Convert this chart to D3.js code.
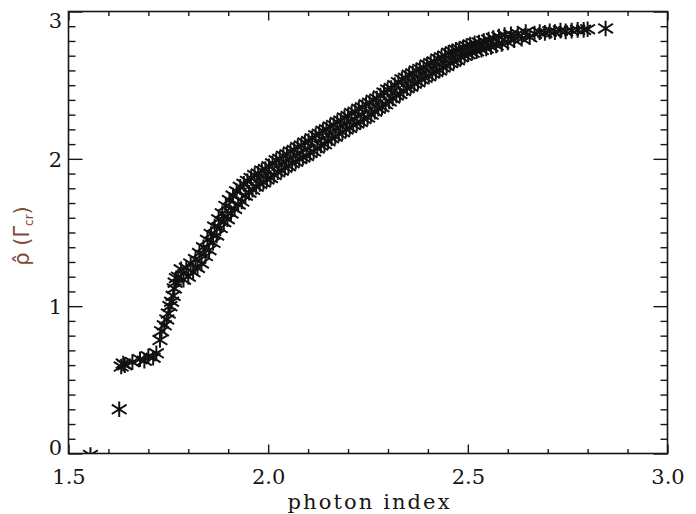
<!DOCTYPE html>
<html>
<head>
<meta charset="utf-8">
<script src="https://cdn.jsdelivr.net/npm/d3@7"></script>
<style>
  html, body { margin: 0; padding: 0; background: #fff; }
  svg { display: block; }
</style>
</head>
<body>
<svg id="chart" width="696" height="514"></svg>
<script>
// ---- data ----
const photonIndex = [
  1.555, 1.627, 1.632, 1.637, 1.641, 1.660, 1.679, 1.690, 1.700, 1.712, 1.720,
  1.729, 1.733, 1.740, 1.746, 1.750, 1.754, 1.758, 1.762, 1.765, 1.767, 1.770,
  1.775, 1.782, 1.788, 1.795, 1.800, 1.806, 1.812, 1.818, 1.823, 1.828, 1.833,
  1.838, 1.843, 1.848, 1.852, 1.857, 1.862, 1.866, 1.871, 1.876, 1.880, 1.885,
  1.889, 1.894, 1.898, 1.903, 1.907, 1.912, 1.916, 1.921, 1.925, 1.930, 1.934,
  1.939, 1.943, 1.948, 1.952, 1.957, 1.961, 1.966, 1.970, 1.975, 1.979, 1.984,
  1.988, 1.993, 1.997, 2.002, 2.006, 2.011, 2.015, 2.020, 2.024, 2.029, 2.033,
  2.038, 2.042, 2.047, 2.051, 2.056, 2.060, 2.065, 2.069, 2.074, 2.078, 2.083,
  2.087, 2.092, 2.096, 2.101, 2.105, 2.110, 2.114, 2.119, 2.123, 2.128, 2.132,
  2.137, 2.141, 2.146, 2.150, 2.155, 2.159, 2.164, 2.168, 2.173, 2.177, 2.182,
  2.186, 2.191, 2.195, 2.200, 2.204, 2.209, 2.213, 2.218, 2.222, 2.227, 2.231,
  2.236, 2.240, 2.245, 2.249, 2.254, 2.258, 2.263, 2.267, 2.272, 2.276, 2.281,
  2.285, 2.290, 2.294, 2.299, 2.303, 2.308, 2.312, 2.317, 2.321, 2.326, 2.330,
  2.335, 2.339, 2.344, 2.348, 2.353, 2.357, 2.362, 2.366, 2.371, 2.375, 2.380,
  2.384, 2.389, 2.393, 2.398, 2.402, 2.407, 2.411, 2.416, 2.420, 2.425, 2.429,
  2.434, 2.438, 2.443, 2.447, 2.452, 2.456, 2.461, 2.465, 2.470, 2.474, 2.479,
  2.483, 2.488, 2.492, 2.497, 2.501, 2.506, 2.511, 2.517, 2.522, 2.528, 2.534,
  2.540, 2.546, 2.552, 2.558, 2.564, 2.571, 2.578, 2.585, 2.592, 2.600, 2.608,
  2.616, 2.625, 2.635, 2.645, 2.655, 2.667, 2.680, 2.693, 2.705, 2.718, 2.732,
  2.745, 2.760, 2.775, 2.790, 2.800, 2.845
];
const rhoHat = [
  -0.01, 0.30, 0.59, 0.61, 0.60, 0.62, 0.64, 0.63, 0.66, 0.65, 0.68,
  0.77, 0.83, 0.87, 0.91, 0.95, 1.00, 1.03, 1.07, 1.12, 1.16, 1.19,
  1.20, 1.25, 1.18, 1.26, 1.20, 1.29, 1.23, 1.32, 1.26, 1.36, 1.29,
  1.40, 1.34, 1.45, 1.38, 1.49, 1.43, 1.54, 1.48, 1.59, 1.53, 1.63,
  1.57, 1.68, 1.59, 1.72, 1.63, 1.75, 1.66, 1.78, 1.69, 1.81, 1.71,
  1.83, 1.75, 1.85, 1.77, 1.87, 1.79, 1.89, 1.81, 1.90, 1.83, 1.92,
  1.84, 1.93, 1.86, 1.95, 1.87, 1.97, 1.89, 1.99, 1.91, 2.00, 1.92,
  2.02, 1.94, 2.03, 1.95, 2.05, 1.97, 2.06, 1.98, 2.08, 2.00, 2.09,
  2.01, 2.11, 2.02, 2.12, 2.04, 2.14, 2.05, 2.16, 2.07, 2.17, 2.09,
  2.19, 2.10, 2.20, 2.12, 2.22, 2.14, 2.23, 2.15, 2.25, 2.17, 2.26,
  2.18, 2.28, 2.20, 2.29, 2.21, 2.31, 2.23, 2.32, 2.24, 2.34, 2.25,
  2.35, 2.27, 2.37, 2.28, 2.38, 2.30, 2.40, 2.32, 2.41, 2.34, 2.43,
  2.35, 2.45, 2.37, 2.47, 2.39, 2.48, 2.41, 2.50, 2.43, 2.52, 2.44,
  2.54, 2.46, 2.55, 2.48, 2.57, 2.49, 2.58, 2.51, 2.60, 2.52, 2.61,
  2.54, 2.62, 2.55, 2.64, 2.56, 2.65, 2.58, 2.66, 2.59, 2.68, 2.60,
  2.69, 2.62, 2.70, 2.63, 2.72, 2.65, 2.73, 2.66, 2.74, 2.67, 2.745,
  2.69, 2.755, 2.70, 2.765, 2.71, 2.775, 2.72, 2.785, 2.73, 2.79, 2.74,
  2.80, 2.75, 2.81, 2.76, 2.82, 2.77, 2.83, 2.78, 2.84, 2.79, 2.845,
  2.805, 2.85, 2.815, 2.86, 2.825, 2.85, 2.86, 2.855, 2.865, 2.86, 2.87,
  2.865, 2.87, 2.875, 2.875, 2.88, 2.885
];
const xTickValues = [1.5, 2.0, 2.5, 3.0];
const xTickLabels = ["1.5", "2.0", "2.5", "3.0"];
const yTickValues = [0, 1, 2, 3];
const yTickLabels = ["0", "1", "2", "3"];
const xTitle = "photon index";

// ---- layout ----
const svg = d3.select("#chart");
const L = 68.5, R = 667.5, T = 11.5, B = 453.5;
const x = d3.scaleLinear().domain([1.5, 3.0]).range([L, R]);
const y = d3.scaleLinear().domain([0, 3]).range([B, T]);
const ink = "#161616";
const serif = "'DejaVu Serif', 'Liberation Serif', serif";

const xMinor = d3.range(15, 31).map(v => v / 10).filter(v => !xTickValues.some(t => Math.abs(t - v) < 1e-9));
const yMinor = d3.range(0, 31).map(v => v / 10).filter(v => !yTickValues.some(t => Math.abs(t - v) < 1e-9));

function styleAxis(g) {
  g.select(".domain").remove();
  g.selectAll("line").attr("stroke", ink).attr("stroke-width", 1.4);
}

// bottom
svg.append("g").attr("transform", `translate(0,${B})`)
  .call(d3.axisBottom(x).tickValues(xMinor).tickSizeInner(-4.5).tickSizeOuter(0).tickFormat(""))
  .call(styleAxis);
svg.append("g").attr("transform", `translate(0,${B})`)
  .call(d3.axisBottom(x).tickValues(xTickValues).tickSizeInner(-9).tickSizeOuter(0)
        .tickPadding(16).tickFormat((d, i) => xTickLabels[i]))
  .call(styleAxis)
  .call(g => g.selectAll("text").attr("font-family", serif).attr("font-size", 21).attr("fill", ink));
// top
svg.append("g").attr("transform", `translate(0,${T})`)
  .call(d3.axisTop(x).tickValues(xMinor).tickSizeInner(-4.5).tickSizeOuter(0).tickFormat(""))
  .call(styleAxis);
svg.append("g").attr("transform", `translate(0,${T})`)
  .call(d3.axisTop(x).tickValues(xTickValues).tickSizeInner(-9).tickSizeOuter(0).tickFormat(""))
  .call(styleAxis);
// left
svg.append("g").attr("transform", `translate(${L},0)`)
  .call(d3.axisLeft(y).tickValues(yMinor).tickSizeInner(-7).tickSizeOuter(0).tickFormat(""))
  .call(styleAxis);
svg.append("g").attr("transform", `translate(${L},0)`)
  .call(d3.axisLeft(y).tickValues(yTickValues).tickSizeInner(-14).tickSizeOuter(0)
        .tickPadding(6.5).tickFormat((d, i) => yTickLabels[i]))
  .call(styleAxis)
  .call(g => g.selectAll("text")
    .attr("font-family", serif).attr("font-size", 21).attr("fill", ink)
    .attr("dy", "0.36em")
    .attr("y", d => Math.max(T + 8, Math.min(B - 7, y(d))) - y(d)));
// right
svg.append("g").attr("transform", `translate(${R},0)`)
  .call(d3.axisRight(y).tickValues(yMinor).tickSizeInner(-7).tickSizeOuter(0).tickFormat(""))
  .call(styleAxis);
svg.append("g").attr("transform", `translate(${R},0)`)
  .call(d3.axisRight(y).tickValues(yTickValues).tickSizeInner(-14).tickSizeOuter(0).tickFormat(""))
  .call(styleAxis);

// frame
svg.append("rect").attr("x", L).attr("y", T).attr("width", R - L).attr("height", B - T)
  .attr("fill", "none").attr("stroke", ink).attr("stroke-width", 1.6);

// clip
svg.append("defs").append("clipPath").attr("id", "plotclip")
  .append("rect").attr("x", L).attr("y", T).attr("width", R - L).attr("height", B - T);

// asterisk markers
const star = "M0,-7.8L0,7.8M-7.4,-4.7L7.4,4.7M-7.4,4.7L7.4,-4.7";
const pts = photonIndex.map((v, i) => ({ px: v, rho: rhoHat[i] }));
svg.append("g").attr("clip-path", "url(#plotclip)")
  .selectAll("path").data(pts).join("path")
  .attr("transform", d => `translate(${x(d.px)},${y(d.rho)})`)
  .attr("d", star)
  .attr("fill", "none").attr("stroke", "#111").attr("stroke-width", 2);

// x title
svg.append("text")
  .attr("x", (x(1.5) + x(3.0)) / 2 + 0.5).attr("y", 509)
  .attr("text-anchor", "middle")
  .attr("font-family", serif).attr("font-size", 21)
  .attr("textLength", 162).attr("lengthAdjust", "spacing")
  .attr("fill", ink)
  .text(xTitle);

// y title
const yt = svg.append("text")
  .attr("transform", "translate(29,236) rotate(-90)")
  .attr("text-anchor", "middle")
  .attr("font-family", "'DejaVu Sans', 'Liberation Sans', sans-serif")
  .attr("font-size", 21)
  .attr("fill", "#7e4b39");
yt.append("tspan").text("\u03C1\u0302 (\u0393");
yt.append("tspan").attr("font-size", 12).attr("dy", 4).text("cr");
yt.append("tspan").attr("dy", -4).text(")");
</script>
</body>
</html>
